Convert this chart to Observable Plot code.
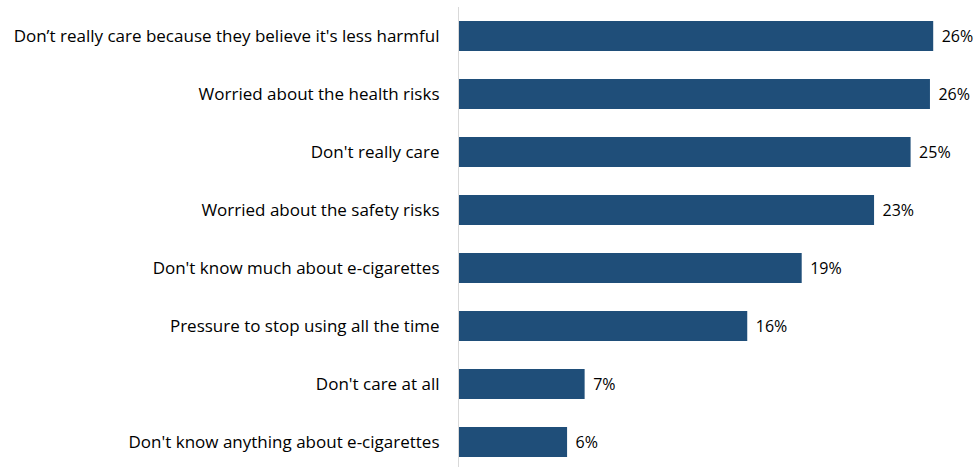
<!DOCTYPE html>
<html>
<head>
<meta charset="utf-8">
<script src="https://cdn.jsdelivr.net/npm/d3@7"></script>
<script src="https://cdn.jsdelivr.net/npm/@observablehq/plot@0.6"></script>
<style>
  html, body { margin: 0; padding: 0; background: #fff; }
  svg { display: block; }
</style>
</head>
<body>
<div id="chart"></div>
<script>
const categories = [
  "Don’t really care because they believe it's less harmful",
  "Worried about the health risks",
  "Don't really care",
  "Worried about the safety risks",
  "Don't know much about e-cigarettes",
  "Pressure to stop using all the time",
  "Don't care at all",
  "Don't know anything about e-cigarettes"
];
const values = [26.27, 26.09, 25.02, 23.0, 19.0, 15.99, 7.0, 6.03];
const valueLabels = ["26%", "26%", "25%", "23%", "19%", "16%", "7%", "6%"];

const data = categories.map((c, i) => ({category: c, value: values[i], label: valueLabels[i]}));

const chart = Plot.plot({
  width: 978,
  height: 467,
  marginLeft: 458,
  marginRight: 13.5,
  marginTop: 7,
  marginBottom: 0,
  style: {fontFamily: "'Open Sans', sans-serif", fontSize: "16px", color: "#000", background: "#fff"},
  x: {domain: [0, 28], axis: null},
  y: {domain: categories, range: [20.25, 458.75], paddingInner: 0.477, paddingOuter: 0, label: null},
  marks: [
    Plot.barX(data, {x: "value", y: "category", fill: "#1f4e79"}),
    Plot.ruleX([0], {stroke: "#d9d9d9", strokeWidth: 1}),
    Plot.text(data, {x: "value", y: "category", text: "label", textAnchor: "start", dx: 8, fill: "#000", fontSize: 16}),
    Plot.axisY({tickSize: 0, tickPadding: 19, fontSize: 17, label: null, fill: "#000"})
  ]
});
document.getElementById("chart").appendChild(chart);
</script>
</body>
</html>
